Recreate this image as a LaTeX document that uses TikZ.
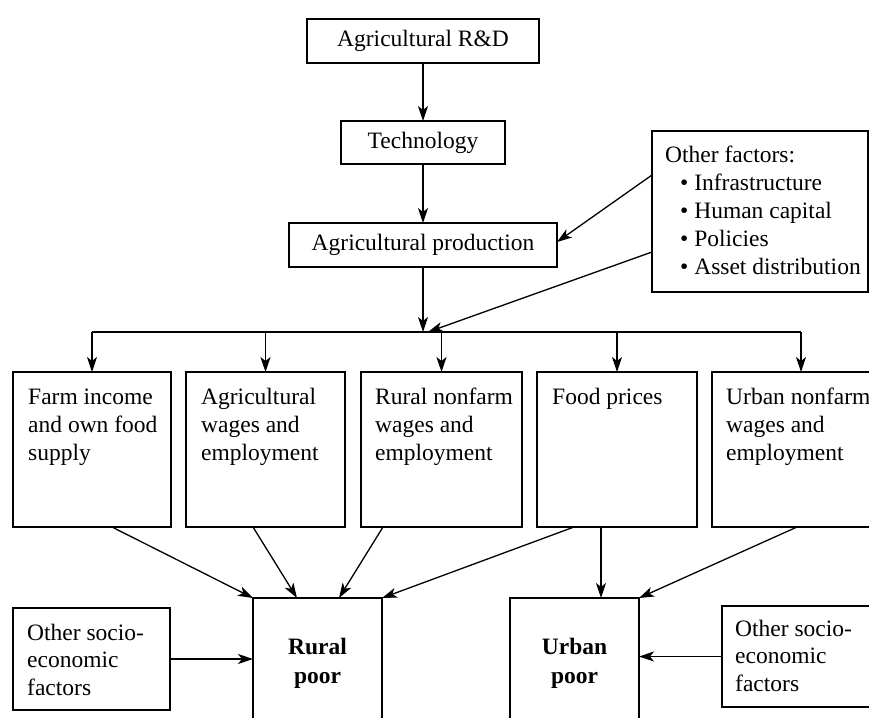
\documentclass[tikz,border=0pt]{standalone}
\usepackage{fontspec}
\setmainfont{Liberation Serif}
\usetikzlibrary{arrows.meta}
\begin{document}
\begin{tikzpicture}[x=1pt,y=-1pt,
  box/.style={draw, line width=1.4pt, inner sep=0pt, outer sep=0pt, anchor=north west},
  cbox/.style={draw, line width=1.4pt, inner sep=0pt, outer sep=0pt, anchor=center, font=\fontsize{23.5}{28}\selectfont},
  txt/.style={anchor=base west, inner sep=0pt, align=left, font=\fontsize{23.5}{28}\selectfont},
  arr/.style={-{Stealth[length=15pt,width=10pt,inset=4pt]}, line width=1.3pt},
  ln/.style={line width=1.3pt}]
\useasboundingbox (0,0) rectangle (869,717);
% top chain
\node[cbox, minimum width=232pt, minimum height=44pt] (rd) at (423,41) {Agricultural R\&D};
\node[cbox, minimum width=164pt, minimum height=43pt] (tech) at (423,142.5) {Technology};
\node[cbox, minimum width=268pt, minimum height=44pt] (ap) at (423,245) {Agricultural production};
% other factors
\node[box, minimum width=216pt, minimum height=161pt] (of) at (652,131) {};
\node[txt] (oft) at (665,274) {Other factors:\\\hspace*{15pt}\textbullet\ Infrastructure\\\hspace*{15pt}\textbullet\ Human capital\\\hspace*{15pt}\textbullet\ Policies\\\hspace*{15pt}\textbullet\ Asset distribution};
% five boxes
\node[box, minimum width=158pt, minimum height=155pt] (farm) at (13,372) {};
\node[box, minimum width=159pt, minimum height=155pt] (agw) at (186,372) {};
\node[box, minimum width=161pt, minimum height=155pt] (rnf) at (361,372) {};
\node[box, minimum width=160pt, minimum height=155pt] (food) at (537,372) {};
\node[box, minimum width=178pt, minimum height=155pt] (unf) at (712,372) {};
\node[txt] (farmt) at (28,460) {Farm income\\and own food\\supply};
\node[txt] (agwt) at (201,460) {Agricultural\\wages and\\employment};
\node[txt] (rnft) at (375,460) {Rural nonfarm\\wages and\\employment};
\node[txt] (foodt) at (552,404) {Food prices};
\node[txt] (unft) at (726,460) {Urban nonfarm\\wages and\\employment};
% poor boxes
\node[box, minimum width=129pt, minimum height=130pt, align=center, font=\fontsize{23.5}{29}\selectfont\bfseries] (rp) at (253,598) {Rural\\poor};
\node[box, minimum width=129pt, minimum height=130pt, align=center, font=\fontsize{23.5}{29}\selectfont\bfseries] (up) at (510,598) {Urban\\poor};
% socio boxes
\node[box, minimum width=157pt, minimum height=102pt] (ls) at (13,608) {};
\node[txt, font=\fontsize{23.5}{27.5}\selectfont] (lst) at (27,695) {Other socio-\\economic\\factors};
\node[box, minimum width=160pt, minimum height=101pt] (rs) at (722,606) {};
\node[txt, font=\fontsize{23.5}{27.5}\selectfont] (rst) at (735,691) {Other socio-\\economic\\factors};
% connectors
\coordinate (bar) at (423,332);
\draw[arr] (rd) -- (tech);
\draw[arr] (tech) -- (ap);
\draw[arr] (ap) -- (bar);
\draw[arr] ([yshift=36.5pt]of.west) -- ([yshift=3pt]ap.east);
\draw[arr] ([yshift=-40.5pt]of.west) -- ([xshift=5pt]bar);
\draw[ln] (bar -| farm.north) -- (bar -| unf.north);
\draw[arr] (bar -| farm.north) -- (farm.north);
\draw[arr] (bar -| agw.north) -- (agw.north);
\draw[arr] (bar -| rnf.north) -- (rnf.north);
\draw[arr] (bar -| food.north) -- (food.north);
\draw[arr] (bar -| unf.north) -- (unf.north);
\draw[arr] ([xshift=20pt]farm.south) -- (rp.north west);
\draw[arr] ([xshift=-12.5pt]agw.south) -- ([xshift=-20.5pt]rp.north);
\draw[arr] ([xshift=-58.5pt]rnf.south) -- ([xshift=21.5pt]rp.north);
\draw[arr] ([xshift=-43pt]food.south) -- (rp.north east);
\draw[arr] ([xshift=-16pt]food.south) -- ([xshift=-16pt]food.south |- up.north);
\draw[arr] ([xshift=-4pt]unf.south) -- (up.north east);
\draw[arr] (ls.east) -- (ls.east -| rp.west);
\draw[arr] (rs.west) -- (rs.west -| up.east);
\end{tikzpicture}
\end{document}
